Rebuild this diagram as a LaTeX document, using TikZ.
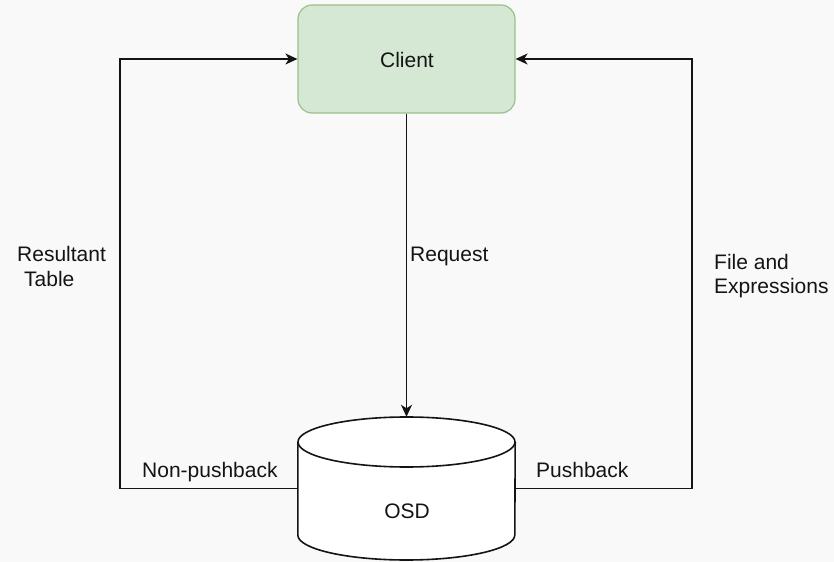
\documentclass[tikz,border=0pt]{standalone}
\usepackage{fontspec}
\setmainfont{Liberation Sans}
\usetikzlibrary{arrows.meta}
\definecolor{bg}{HTML}{F9F9F9}
\definecolor{clientfill}{HTML}{D5E8D4}
\definecolor{clientline}{HTML}{9CC08A}
\definecolor{ink}{HTML}{141414}
\begin{document}
\begin{tikzpicture}[x=1bp,y=-1bp,
  every node/.style={font=\fontsize{21bp}{25bp}\selectfont, text=ink},
  box/.style={draw=clientline, fill=clientfill, line width=1.2bp, rounded corners=14bp,
    minimum width=217bp, minimum height=108bp, inner sep=0pt},
  store/.style={minimum width=217bp, minimum height=143bp, inner sep=0pt},
  link/.style={draw=ink, line width=1.6bp},
  arr/.style={link, -{Stealth[length=12bp,width=11bp,inset=3.5bp]}},
  lbl/.style={anchor=base west, inner sep=0pt}]
  % canvas
  \fill[bg] (0,0) rectangle (834,562);
  \useasboundingbox (0,0) rectangle (834,562);

  % client box
  \node[box] (client) at (406.5,59) {};
  \node[inner sep=0pt, anchor=base] (clienttxt) at (407,68) {Client};

  % storage cylinder
  \node[store] (osd) at (406.5,488.5) {};
  \fill[white, draw=ink, line width=1.6bp]
    (osd.north west |- 0,442) -- (osd.north west |- 0,535)
    arc[start angle=180, end angle=360, x radius=108.5bp, y radius=25bp]
    -- (osd.north east |- 0,442);
  \draw[ink, fill=white, line width=1.6bp] (406.5,442) ellipse[x radius=108.5bp, y radius=25bp];
  \node[inner sep=0pt, anchor=base] (osdtxt) at (407,518) {OSD};

  % connector columns
  \coordinate (lcol) at (120,0);
  \coordinate (rcol) at (692,0);

  % request
  \draw[arr] (client.south) -- (osd.north);
  % result path and pushback path
  \draw[arr] (osd.west) -- (osd.west -| lcol) |- (client.west);
  \draw[arr] (osd.east) -- (osd.east -| rcol) |- (client.east);

  % labels
  \node[lbl] (req) at (410,262) {Request};
  \node[lbl] (res1) at (17,262) {Resultant};
  \node[lbl] (res2) at (24,287) {Table};
  \node[lbl] (fe1) at (714,270) {File and};
  \node[lbl] (fe2) at (714,294) {Expressions};
  \node[lbl] (np) at (142,477) {Non-pushback};
  \node[lbl] (pb) at (536,477) {Pushback};
\end{tikzpicture}
\end{document}
